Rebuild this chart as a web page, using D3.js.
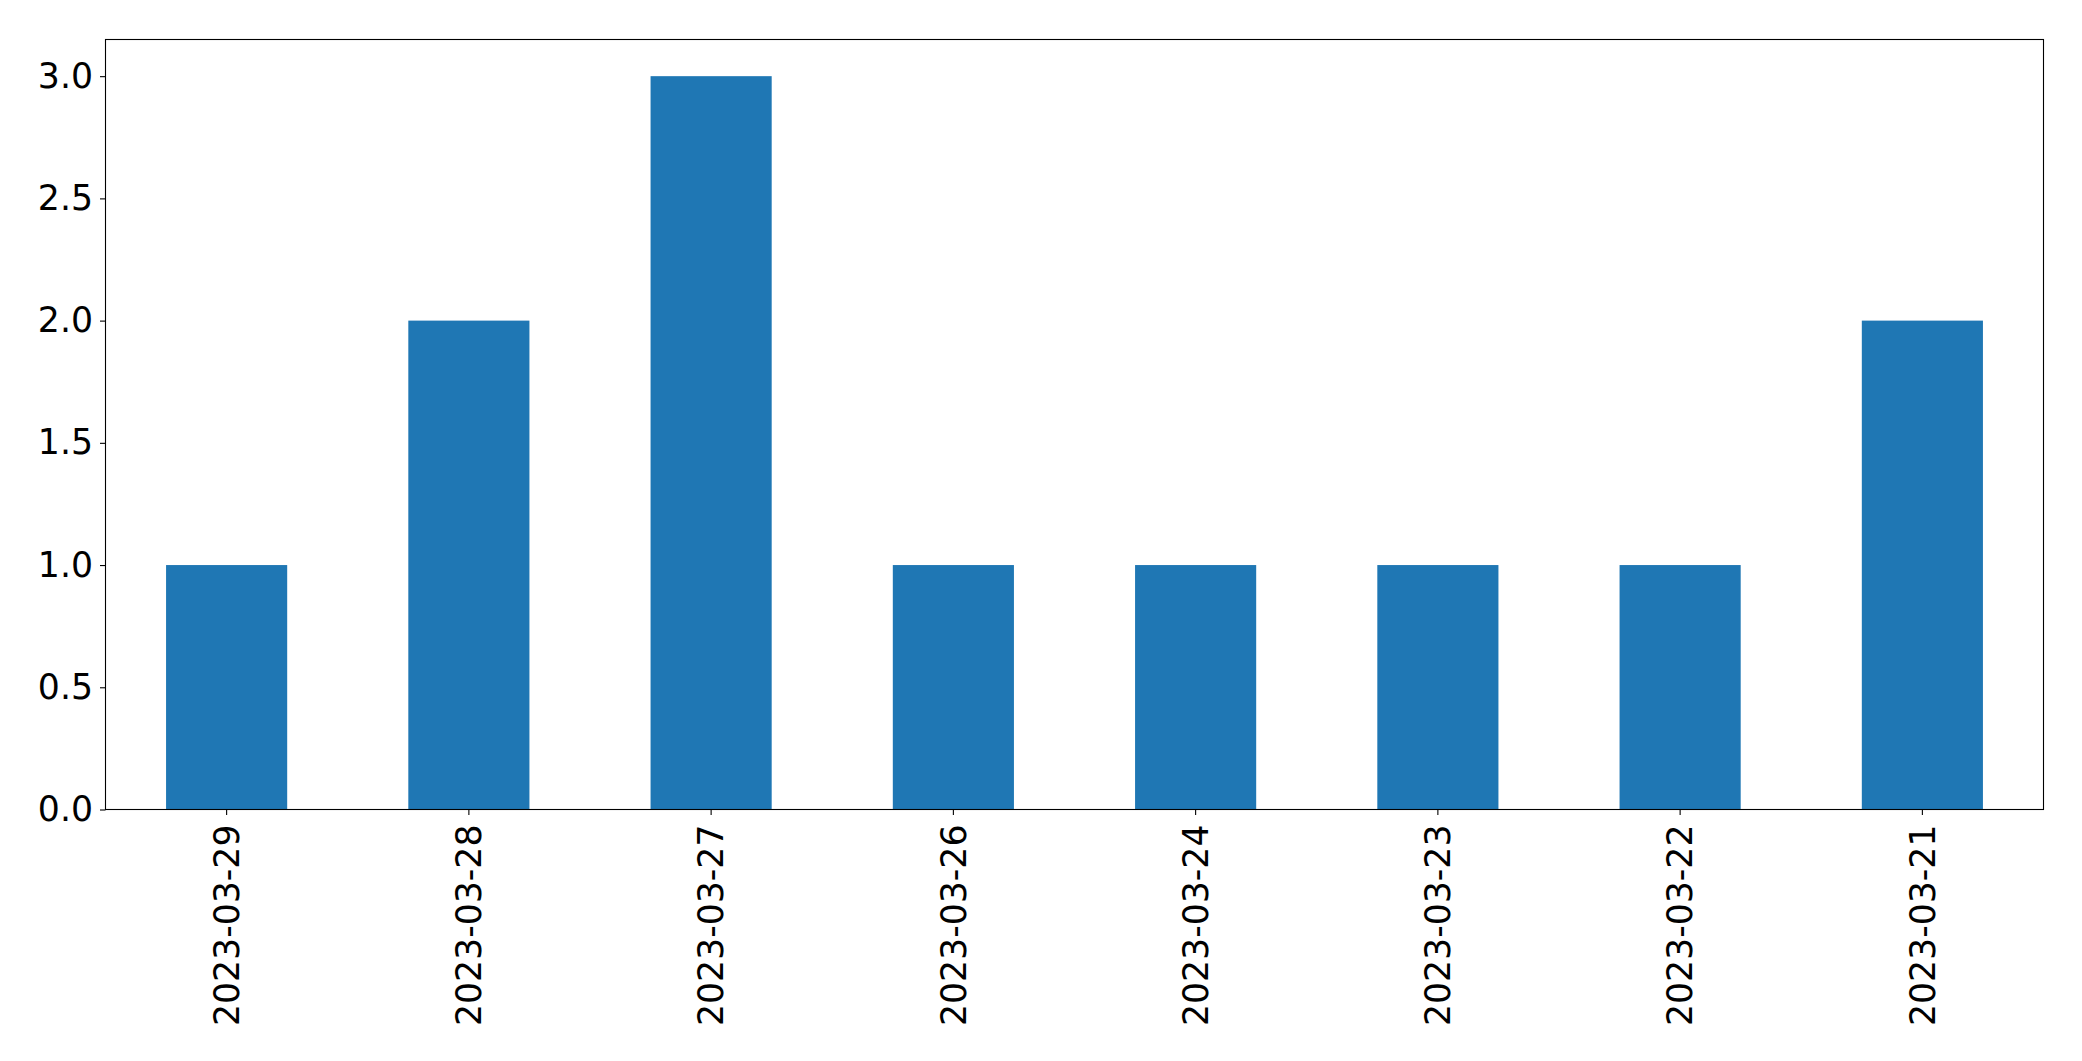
<!DOCTYPE html>
<html><head><meta charset="utf-8">
<script src="https://cdn.jsdelivr.net/npm/d3@7"></script>
<style>html,body{margin:0;padding:0;background:#fff;}</style>
</head><body>
<script>
const categories = ["2023-03-29","2023-03-28","2023-03-27","2023-03-26","2023-03-24","2023-03-23","2023-03-22","2023-03-21"];
const values = [1,2,3,1,1,1,1,2];
const yTicks = [0,0.5,1.0,1.5,2.0,2.5,3.0];

const W = 2082, H = 1061;
const m = {left:105.5, right:2043.5, top:39.5, bottom:809.5};
const FS = "34.7px";
const svg = d3.select("body").append("svg").attr("width",W).attr("height",H)
  .style("font-family","'DejaVu Sans', sans-serif");

const x = d3.scaleBand().domain(categories).range([m.left,m.right]).paddingInner(0.5).paddingOuter(0.25);
const y = d3.scaleLinear().domain([0,3.15]).range([m.bottom,m.top]);

svg.append("g").selectAll("rect").data(values).join("rect")
  .attr("x",(d,i)=>x(categories[i]))
  .attr("width",x.bandwidth())
  .attr("y",d=>y(d))
  .attr("height",d=>y(0)-y(d))
  .attr("fill","#1f77b4");

svg.append("rect").attr("x",m.left).attr("y",m.top).attr("width",m.right-m.left).attr("height",m.bottom-m.top)
  .attr("fill","none").attr("stroke","#000").attr("stroke-width",1.1);

const yAxis = d3.axisLeft(y).tickValues(yTicks).tickFormat(d3.format(".1f")).tickSize(5.5).tickPadding(7);
const gy = svg.append("g").attr("transform",`translate(${m.left},0)`).call(yAxis);
gy.select(".domain").remove();
gy.selectAll("line").attr("stroke","#000").attr("stroke-width",1.1);
gy.selectAll("text").attr("font-size",FS).attr("fill","#000").attr("font-family","'DejaVu Sans', sans-serif");

const xAxis = d3.axisBottom(x).tickSize(5.5).tickPadding(0);
const gx = svg.append("g").attr("transform",`translate(0,${m.bottom})`).call(xAxis);
gx.select(".domain").remove();
gx.selectAll("line").attr("stroke","#000").attr("stroke-width",1.1);
gx.selectAll("text").attr("font-size",FS).attr("fill","#000").attr("font-family","'DejaVu Sans', sans-serif")
  .attr("text-anchor","end").attr("y",0).attr("dy","0.35em")
  .attr("transform","translate(0,15) rotate(-90)");
</script>
</body></html>
